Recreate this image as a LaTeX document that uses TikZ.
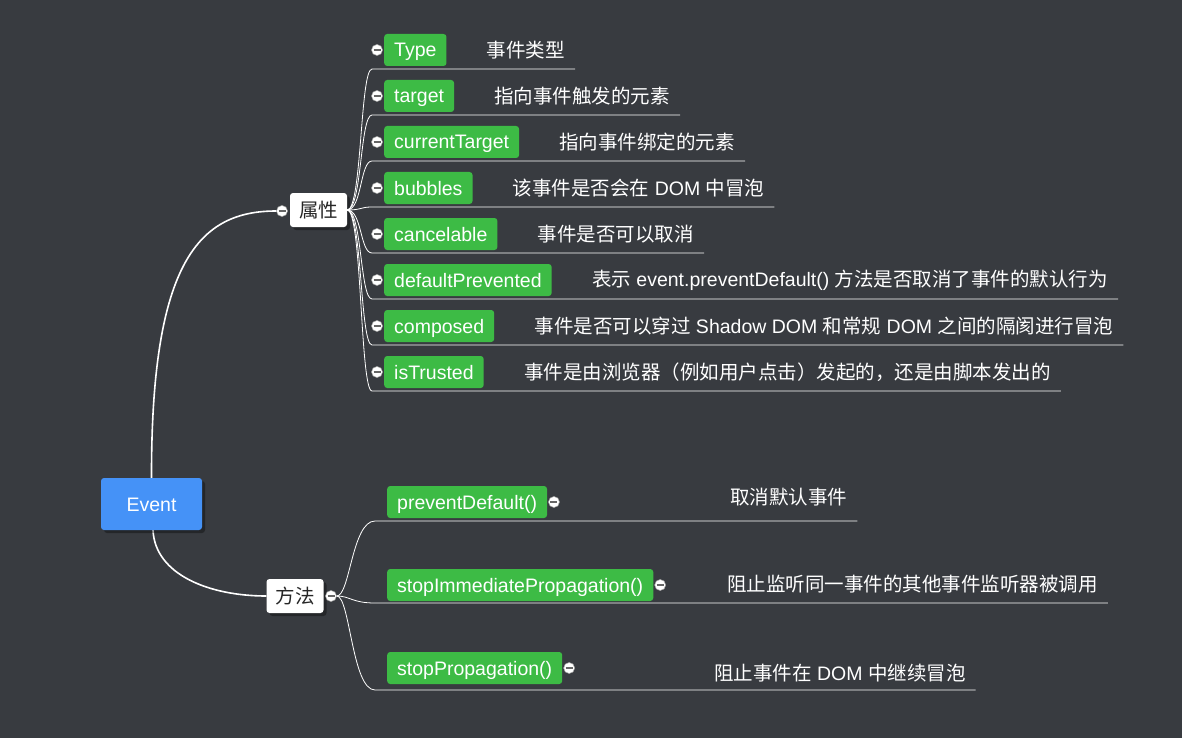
\documentclass[tikz,border=0pt]{standalone}
\usepackage{fontspec}
\setmainfont{Liberation Sans}
\newfontfamily\cjk{Noto Sans CJK SC}
\newcommand{\zh}[1]{{\cjk #1}}
\usetikzlibrary{calc,positioning,shadows}
\definecolor{bgdark}{HTML}{383B40}
\definecolor{leafgreen}{HTML}{3DBB45}
\definecolor{rootblue}{HTML}{4592F7}
\tikzset{
	rootbox/.style={fill=rootblue, rounded corners=3pt, minimum width=101pt, minimum height=52pt,
			text=white, font=\fontsize{19.5}{22}\selectfont, text height=14pt, text depth=0pt,
			drop shadow={shadow xshift=3pt, shadow yshift=-3pt, fill=black, opacity=.35}},
	branchbox/.style={fill=white, rounded corners=3pt, minimum height=34pt, inner xsep=9pt,
			text=black!85, font=\fontsize{19.5}{22}\selectfont,
			drop shadow={shadow xshift=3pt, shadow yshift=-3pt, fill=black, opacity=.35}},
	leaf/.style={fill=leafgreen, rounded corners=3pt, minimum height=32pt, inner xsep=10pt, inner ysep=0pt,
			text=white, font=\fontsize{19.5}{22}\selectfont, text height=14pt, text depth=0pt},
	desc/.style={inner xsep=10pt, text=white, font=\fontsize{19.5}{22}\selectfont},
	fold/.style={circle, fill=white, draw=gray!70, line width=.5pt, minimum size=11pt, inner sep=0pt,
			path picture={\draw[black!60, line width=1.6pt]
					([xshift=-3.5pt]path picture bounding box.center) -- ([xshift=3.5pt]path picture bounding box.center);}},
	trunk/.style={draw=white, line width=1.6pt},
	twig/.style={draw=white, line width=.8pt}
}

\begin{document}
\begin{tikzpicture}[x=1pt,y=-1pt]
	\fill[bgdark] (0,0) rectangle (1182,738);

	% root and the two branches
	\node[branchbox] (attr) at (318.5,210) {\zh{属性}};
	\node[branchbox] (method) at (295,596) {\zh{方法}};
	\node[fold] (attrdot) at (282,211) {};
	\node[fold] (methdot) at (331,596) {};
	\draw[trunk] (151.5,478) .. controls (151,260) and (200,211) .. (attrdot.west);
	\draw[trunk] (153,530) .. controls (155,575) and (210,596) .. (method.west);
	\node[rootbox] (event) at (151.5,504) {Event};

	% properties
	\foreach \i/\name/\desc in {
			1/Type/{\zh{事件类型}},
			2/target/{\zh{指向事件触发的元素}},
			3/currentTarget/{\zh{指向事件绑定的元素}},
			4/bubbles/{\zh{该事件是否会在} DOM \zh{中冒泡}},
			5/cancelable/{\zh{事件是否可以取消}},
			6/defaultPrevented/{\zh{表示} event.preventDefault() \zh{方法是否取消了事件的默认行为}},
			7/composed/{\zh{事件是否可以穿过} Shadow DOM \zh{和常规} DOM \zh{之间的隔阂进行冒泡}},
			8/isTrusted/{\zh{事件是由浏览器（例如用户点击）发起的，还是由脚本发出的}}}{
		\pgfmathsetmacro\y{50+46*(\i-1)}
		\node[leaf, anchor=west] (p\i) at (384,\y) {\name};
		\node[fold] (pf\i) at (377,\y) {};
		\node[desc, right=30pt of p\i] (pd\i) {\desc};
		\coordinate (pu\i) at (372,\y+19);
		\draw[twig] (attr.east) .. controls (362,210) and (360,\y+19) .. (pu\i) -- (pu\i -| pd\i.east);
	}

	% methods
	\foreach \i/\name/\y/\dx/\dy/\uy/\desc in {
			1/preventDefault()/502/730/497/521/{\zh{取消默认事件}},
			2/stopImmediatePropagation()/585/727/584/603/{\zh{阻止监听同一事件的其他事件监听器被调用}},
			3/stopPropagation()/668/714/673/690/{\zh{阻止事件在} DOM \zh{中继续冒泡}}}{
		\node[leaf, anchor=west] (m\i) at (387,\y) {\name};
		\node[fold, right=1pt of m\i] (mf\i) {};
		\node[desc, anchor=west] (md\i) at (\dx-10,\dy) {\desc};
		\coordinate (mu\i) at (375,\uy);
		\draw[twig] (methdot.east) .. controls (350,596) and (352,\uy) .. (mu\i) -- (mu\i -| md\i.east);
	}
\end{tikzpicture}
\end{document}
